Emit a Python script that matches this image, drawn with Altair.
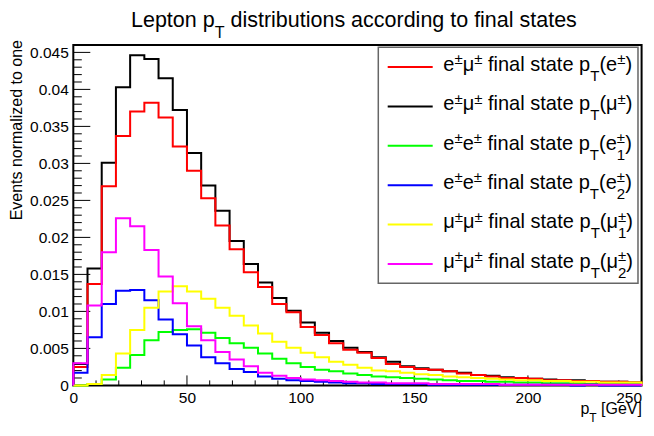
import re
import altair as alt
import pandas as pd

# ---------------- data ----------------
N_BINS = 40
BIN_WIDTH = 6.25  # GeV
X_MAX = 250
Y_MAX = 0.046

series_labels = [
    "e^{±}μ^{±} final state p_{T}(e^{±})",
    "e^{±}μ^{±} final state p_{T}(μ^{±})",
    "e^{±}e^{±} final state p_{T}(e^{±}_{1})",
    "e^{±}e^{±} final state p_{T}(e^{±}_{2})",
    "μ^{±}μ^{±} final state p_{T}(μ^{±}_{1})",
    "μ^{±}μ^{±} final state p_{T}(μ^{±}_{2})",
]
series_colors = ["#ff0000", "#000000", "#00ff00", "#0000ff", "#ffff00", "#ff00ff"]

e_emu = [0.0025, 0.0137, 0.0269, 0.0337, 0.0370, 0.0382, 0.0362, 0.0323, 0.0290, 0.0253,
         0.0216, 0.0184, 0.0153, 0.0133, 0.0110, 0.0099, 0.0079, 0.0068, 0.0057, 0.0048,
         0.0044, 0.0037, 0.0029, 0.0025, 0.0022, 0.0021, 0.0019, 0.0016, 0.0014, 0.0012,
         0.0010, 0.0010, 0.0009, 0.0007, 0.0007, 0.0006, 0.0006, 0.0005, 0.0005, 0.0004]
mu_emu = [0.0029, 0.0158, 0.0301, 0.0403, 0.0446, 0.0441, 0.0415, 0.0372, 0.0314, 0.0270,
          0.0236, 0.0195, 0.0164, 0.0139, 0.0118, 0.0101, 0.0085, 0.0071, 0.0060, 0.0051,
          0.0045, 0.0038, 0.0032, 0.0026, 0.0023, 0.0021, 0.0019, 0.0017, 0.0014, 0.0013,
          0.0011, 0.0010, 0.0009, 0.0008, 0.0007, 0.0007, 0.0006, 0.0005, 0.0005, 0.0004]
e1_ee = [0.0000, 0.0002, 0.0008, 0.0024, 0.0041, 0.0061, 0.0072, 0.0075, 0.0076, 0.0071,
         0.0064, 0.0057, 0.0051, 0.0043, 0.0036, 0.0030, 0.0025, 0.0021, 0.0019, 0.0016,
         0.0014, 0.0012, 0.0011, 0.0010, 0.0009, 0.0008, 0.0007, 0.0006, 0.0006, 0.0005,
         0.0005, 0.0004, 0.0004, 0.0003, 0.0003, 0.0003, 0.0002, 0.0002, 0.0002, 0.0002]
e2_ee = [0.0017, 0.0065, 0.0110, 0.0128, 0.0129, 0.0115, 0.0089, 0.0069, 0.0054, 0.0038,
         0.0030, 0.0022, 0.0018, 0.0012, 0.0009, 0.0007, 0.0006, 0.0005, 0.0004, 0.0003,
         0.0003, 0.0002, 0.0002, 0.0002, 0.0002, 0.0001, 0.0001, 0.0001, 0.0001, 0.0001,
         0.0001, 0.0001, 0.0001, 0.0001, 0.0001, 0.0000, 0.0001, 0.0000, 0.0000, 0.0000]
mu1_mumu = [0.0000, 0.0002, 0.0014, 0.0043, 0.0075, 0.0105, 0.0127, 0.0134, 0.0127, 0.0117,
            0.0105, 0.0094, 0.0081, 0.0070, 0.0059, 0.0051, 0.0044, 0.0038, 0.0032, 0.0028,
            0.0024, 0.0020, 0.0019, 0.0017, 0.0015, 0.0014, 0.0012, 0.0011, 0.0010, 0.0009,
            0.0008, 0.0007, 0.0007, 0.0006, 0.0006, 0.0005, 0.0005, 0.0004, 0.0004, 0.0004]
mu2_mumu = [0.0030, 0.0108, 0.0180, 0.0226, 0.0215, 0.0183, 0.0147, 0.0111, 0.0080, 0.0061,
            0.0045, 0.0035, 0.0026, 0.0017, 0.0013, 0.0010, 0.0008, 0.0007, 0.0006, 0.0005,
            0.0004, 0.0004, 0.0003, 0.0003, 0.0003, 0.0002, 0.0002, 0.0002, 0.0002, 0.0002,
            0.0001, 0.0001, 0.0001, 0.0001, 0.0001, 0.0001, 0.0001, 0.0001, 0.0001, 0.0001]
series_values = [e_emu, mu_emu, e1_ee, e2_ee, mu1_mumu, mu2_mumu]
draw_order = [1, 0, 2, 3, 4, 5]  # black under red, as in the reference

x_major = [0, 50, 100, 150, 200, 250]
x_minor = [10, 20, 30, 40, 60, 70, 80, 90, 110, 120, 130, 140, 160, 170, 180, 190, 210, 220, 230, 240]
y_major = [0, 0.005, 0.01, 0.015, 0.02, 0.025, 0.03, 0.035, 0.04, 0.045]
y_minor = [i / 1000 for i in range(0, 47) if i % 5 != 0]

title_text = "Lepton p_{T} distributions according to final states"
x_title_text = "p_{T} [GeV]"
y_title_text = "Events normalized to one"

# ---------------- layout ----------------
FONT = "Liberation Sans"
W, H = 568.3, 340.4

xs = alt.Scale(domain=[0, X_MAX], nice=False, zero=False)
ys = alt.Scale(domain=[0, Y_MAX], nice=False)
xaxis = alt.Axis(values=x_major, title=None, labelFlush=False, labelOverlap=False, format="d",
                 labelAlign=alt.ExprRef(expr="datum.value >= 250 ? 'right' : 'center'"))
yaxis = alt.Axis(values=y_major, title=None, format="~g", labelOverlap=False)


def X(f):
    return alt.X(f, type="quantitative", scale=xs, axis=xaxis)


def Y(f):
    return alt.Y(f, type="quantitative", scale=ys, axis=yaxis)


layers = []

# inward ticks (ROOT style)
layers.append(alt.Chart(pd.DataFrame({"xt": x_major})).mark_rule(color="black", strokeWidth=1)
              .encode(x=X("xt"), y=alt.value(H), y2=alt.value(H - 10)))
layers.append(alt.Chart(pd.DataFrame({"xt": x_minor})).mark_rule(color="black", strokeWidth=1)
              .encode(x=X("xt"), y=alt.value(H), y2=alt.value(H - 5)))
layers.append(alt.Chart(pd.DataFrame({"yt": y_major})).mark_rule(color="black", strokeWidth=1)
              .encode(y=Y("yt"), x=alt.value(0), x2=alt.value(17)))
layers.append(alt.Chart(pd.DataFrame({"yt": y_minor})).mark_rule(color="black", strokeWidth=1)
              .encode(y=Y("yt"), x=alt.value(0), x2=alt.value(8.5)))

# histograms as step lines
edges = [k * BIN_WIDTH for k in range(N_BINS)]
for i in draw_order:
    vals = series_values[i]
    xx = [0] + edges + [X_MAX, X_MAX]
    yy = [0] + vals + [vals[-1], 0]
    df = pd.DataFrame({"x": xx, "y": yy, "o": list(range(len(xx)))})
    layers.append(alt.Chart(df).mark_line(interpolate="step-after", strokeWidth=2,
                                           color=series_colors[i], strokeJoin="miter")
                  .encode(x=X("x"), y=Y("y"), order="o:Q"))

# ---------------- text with sub/superscripts ----------------
CW = {' ': 278, '(': 333, ')': 333, '[': 278, ']': 278, '1': 556, '2': 556, 'E': 667, 'G': 778,
      'L': 556, 'T': 611, 'V': 667, 'a': 556, 'b': 556, 'c': 500, 'd': 556, 'e': 556, 'f': 278,
      'g': 556, 'i': 222, 'l': 222, 'm': 833, 'n': 556, 'o': 556, 'p': 556, 'r': 333, 's': 500,
      't': 278, 'u': 556, 'v': 500, 'z': 500, '±': 549, 'μ': 576}


def tw(s, fs):
    return sum(CW.get(c, 556) for c in s) / 1000.0 * fs


TOK = re.compile(r"\^\{([^}]*)\}_\{([^}]*)\}|\^\{([^}]*)\}|_\{([^}]*)\}|([^^_]+)")


def place(s, x0, y0, fs, rows, sc=0.75):
    x = x0
    for m in TOK.finditer(s):
        if m.group(1) is not None:
            rows.append(dict(t=m.group(1), px=x, py=y0 - 0.33 * fs, fs=fs * sc))
            rows.append(dict(t=m.group(2), px=x, py=y0 + 0.5 * fs, fs=fs * sc))
            x += max(tw(m.group(1), fs * sc), tw(m.group(2), fs * sc))
        elif m.group(3) is not None:
            rows.append(dict(t=m.group(3), px=x, py=y0 - 0.33 * fs, fs=fs * sc))
            x += tw(m.group(3), fs * sc)
        elif m.group(4) is not None:
            rows.append(dict(t=m.group(4), px=x, py=y0 + 0.5 * fs, fs=fs * sc))
            x += tw(m.group(4), fs * sc)
        else:
            txt = m.group(5)
            lead = len(txt) - len(txt.lstrip(" "))
            x += tw(" " * lead, fs)
            core = txt.strip(" ")
            if core:
                rows.append(dict(t=core, px=x, py=y0, fs=fs))
            x += tw(txt.lstrip(" "), fs)
    return x


text_rows = []
# title (kept inside the drawable page area)
place(title_text, 57.7, -17.5, 21.5, text_rows)
# x-axis title, right aligned to the plot edge
tmp = []
xt_w = place(x_title_text, 0, 0, 16, tmp)
place(x_title_text, W + 0.4 - xt_w, 369.5, 16, text_rows)
# legend labels
LEG_Y0, LEG_DY = 22.0, 39.4
for k, lab in enumerate(series_labels):
    place(lab, 370.0, LEG_Y0 + k * LEG_DY + 3.8, 20, text_rows)

# legend box
layers.append(alt.Chart(pd.DataFrame({"a": [0]})).mark_rect(fill="white", stroke="#666666", strokeWidth=1.5)
              .encode(x=alt.value(305), x2=alt.value(564.7), y=alt.value(2.3), y2=alt.value(238.3)))
# legend line samples
leg_df = pd.DataFrame({"ly": [LEG_Y0 + k * LEG_DY for k in range(len(series_labels))],
                       "c": series_colors})
layers.append(alt.Chart(leg_df).mark_rule(strokeWidth=2)
              .encode(y=alt.Y("ly:Q", scale=None, axis=None), x=alt.value(314.4), x2=alt.value(359.4),
                      color=alt.Color("c:N", scale=None, legend=None)))

layers.append(alt.Chart(pd.DataFrame(text_rows)).mark_text(align="left", baseline="alphabetic", font=FONT,
                                                           color="black")
              .encode(x=alt.X("px:Q", scale=None, axis=None), y=alt.Y("py:Q", scale=None, axis=None),
                      text="t:N", size=alt.Size("fs:Q", scale=None, legend=None)))

# y-axis title (rotated, right-aligned at the top)
layers.append(alt.Chart(pd.DataFrame({"t": [y_title_text]})).mark_text(
    align="right", baseline="alphabetic", angle=270, font=FONT, fontSize=16, color="black")
    .encode(text="t:N", x=alt.value(-51.5), y=alt.value(-5)))

chart = (alt.layer(*layers)
         .properties(width=W, height=H, autosize=alt.AutoSizeParams(type="none"),
                     padding={"left": 65.3, "top": 37, "right": 4.4, "bottom": 41.5})
         .configure_view(stroke="black", strokeWidth=2)
         .configure_axis(grid=False, ticks=False, domain=False, labelFont=FONT, labelFontSize=15.5,
                         labelColor="black", labelPadding=5))

chart.save("out.html", embed_options={"renderer": "svg", "actions": False})
